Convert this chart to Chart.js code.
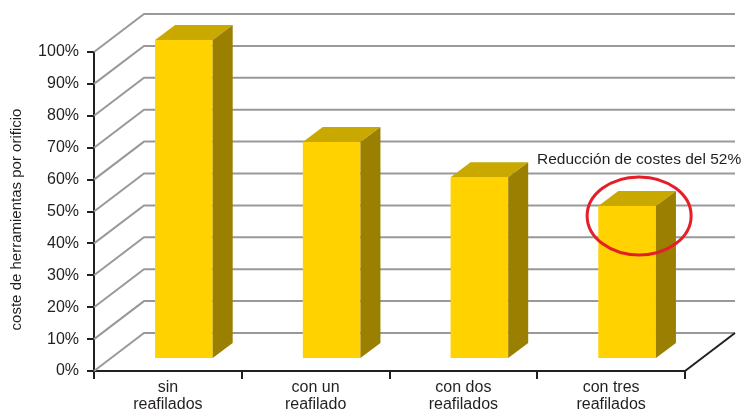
<!DOCTYPE html>
<html lang="es">
<head>
<meta charset="UTF-8">
<script src="https://cdn.jsdelivr.net/npm/chart.js"></script>
<title>Coste de herramientas</title>
<style>
    html, body { margin: 0; padding: 0; background: #fff; }
</style>
</head>
<body>
<canvas id="grafico" width="743" height="412"></canvas>

<script>
    // datos
    const categorias = [['sin', 'reafilados'], ['con un', 'reafilado'], ['con dos', 'reafilados'], ['con tres', 'reafilados']];
    const costes = [100, 68, 57, 48];
    const tituloY = 'coste de herramientas por orificio';
    const nota = 'Reducción de costes del 52%';

    const texto = '#231f20';
    const fuente = '"Liberation Sans", Arial, sans-serif';

    // profundidad del "suelo" y de las barras
    const fondo = { dx: 50, dy: -38 };
    const barra = { dx: 16, dy: -12, px: 20, py: -15 };

    const efecto3d = {
        id: 'efecto3d',
        beforeDatasetsDraw(chart) {
            const { ctx, chartArea: a, scales: { y } } = chart;
            ctx.save();
            ctx.strokeStyle = '#999999';
            ctx.lineWidth = 2;
            y.ticks.forEach(t => {
                const py = y.getPixelForValue(t.value);
                ctx.beginPath();
                ctx.moveTo(a.left, py);
                ctx.lineTo(a.left + fondo.dx, py + fondo.dy);
                ctx.lineTo(a.right + fondo.dx, py + fondo.dy);
                ctx.stroke();
            });
            // borde derecho del suelo
            ctx.strokeStyle = texto;
            ctx.beginPath();
            ctx.moveTo(a.right, a.bottom);
            ctx.lineTo(a.right + fondo.dx, a.bottom + fondo.dy);
            ctx.stroke();
            ctx.restore();

            // la cara frontal se dibuja desplazada hacia el fondo
            ctx.save();
            ctx.translate(barra.dx, barra.dy);
        },
        afterDatasetsDraw(chart) {
            const ctx = chart.ctx;
            ctx.restore();

            const meta = chart.getDatasetMeta(0);
            meta.data.forEach(el => {
                const { x, y, base, width } = el.getProps(['x', 'y', 'base', 'width'], true);
                const l = x - width / 2 + barra.dx;
                const r = x + width / 2 + barra.dx;
                const t = y + barra.dy;
                const b = base + barra.dy;

                // tapa
                ctx.fillStyle = '#c9a900';
                ctx.beginPath();
                ctx.moveTo(l, t);
                ctx.lineTo(l + barra.px, t + barra.py);
                ctx.lineTo(r + barra.px, t + barra.py);
                ctx.lineTo(r, t);
                ctx.closePath();
                ctx.fill();

                // lateral
                ctx.fillStyle = '#9a7f00';
                ctx.beginPath();
                ctx.moveTo(r, t);
                ctx.lineTo(r + barra.px, t + barra.py);
                ctx.lineTo(r + barra.px, b + barra.py);
                ctx.lineTo(r, b);
                ctx.closePath();
                ctx.fill();
            });

            // circulo rojo sobre la ultima barra + nota
            const ult = meta.data[meta.data.length - 1];
            const cx = ult.x + 28;
            const cy = ult.y - 2;
            ctx.save();
            ctx.strokeStyle = '#e3202a';
            ctx.lineWidth = 3;
            ctx.beginPath();
            ctx.ellipse(cx, cy, 52, 39, 0, 0, Math.PI * 2);
            ctx.stroke();

            ctx.fillStyle = texto;
            ctx.font = '15.5px ' + fuente;
            ctx.textAlign = 'center';
            ctx.textBaseline = 'middle';
            ctx.fillText(nota, cx, cy - 56);
            ctx.restore();

            // titulo del eje y, algo mas abajo que el centro del area
            const y = chart.scales.y;
            ctx.save();
            ctx.translate(17, (y.top + y.bottom) / 2 + 8);
            ctx.rotate(-Math.PI / 2);
            ctx.fillStyle = texto;
            ctx.font = '15px ' + fuente;
            ctx.textAlign = 'center';
            ctx.textBaseline = 'middle';
            ctx.fillText(tituloY, 0, 0);
            ctx.restore();
        }
    };

    const ctx = document.getElementById('grafico').getContext('2d');
    new Chart(ctx, {
        type: 'bar',
        data: {
            labels: categorias,
            datasets: [{
                data: costes,
                backgroundColor: '#ffd200',
                borderWidth: 0,
                categoryPercentage: 1,
                barPercentage: 0.39,
                clip: false
            }]
        },
        options: {
            responsive: false,
            animation: false,
            layout: { padding: { top: 52, right: 58, left: 0, bottom: 0 } },
            plugins: {
                legend: { display: false },
                tooltip: { enabled: false }
            },
            scales: {
                x: {
                    grid: { offset: true, drawOnChartArea: false, tickLength: 8, color: texto, lineWidth: 2 },
                    border: { color: texto, width: 2 },
                    ticks: {
                        color: texto,
                        padding: 0,
                        maxRotation: 0,
                        autoSkip: false,
                        font: { family: fuente, size: 16, lineHeight: 1.05 }
                    },
                    afterFit(s) { s.height = 41; }
                },
                y: {
                    min: 0,
                    max: 100,
                    grid: { drawOnChartArea: false, tickLength: 7, color: texto, lineWidth: 2 },
                    border: { color: texto, width: 2 },
                    ticks: {
                        stepSize: 10,
                        color: texto,
                        padding: 8,
                        font: { family: fuente, size: 16 },
                        callback: v => v + '%'
                    },
                    afterFit(s) { s.width = 94; }
                }
            }
        },
        plugins: [efecto3d]
    });
</script>
</body>
</html>
